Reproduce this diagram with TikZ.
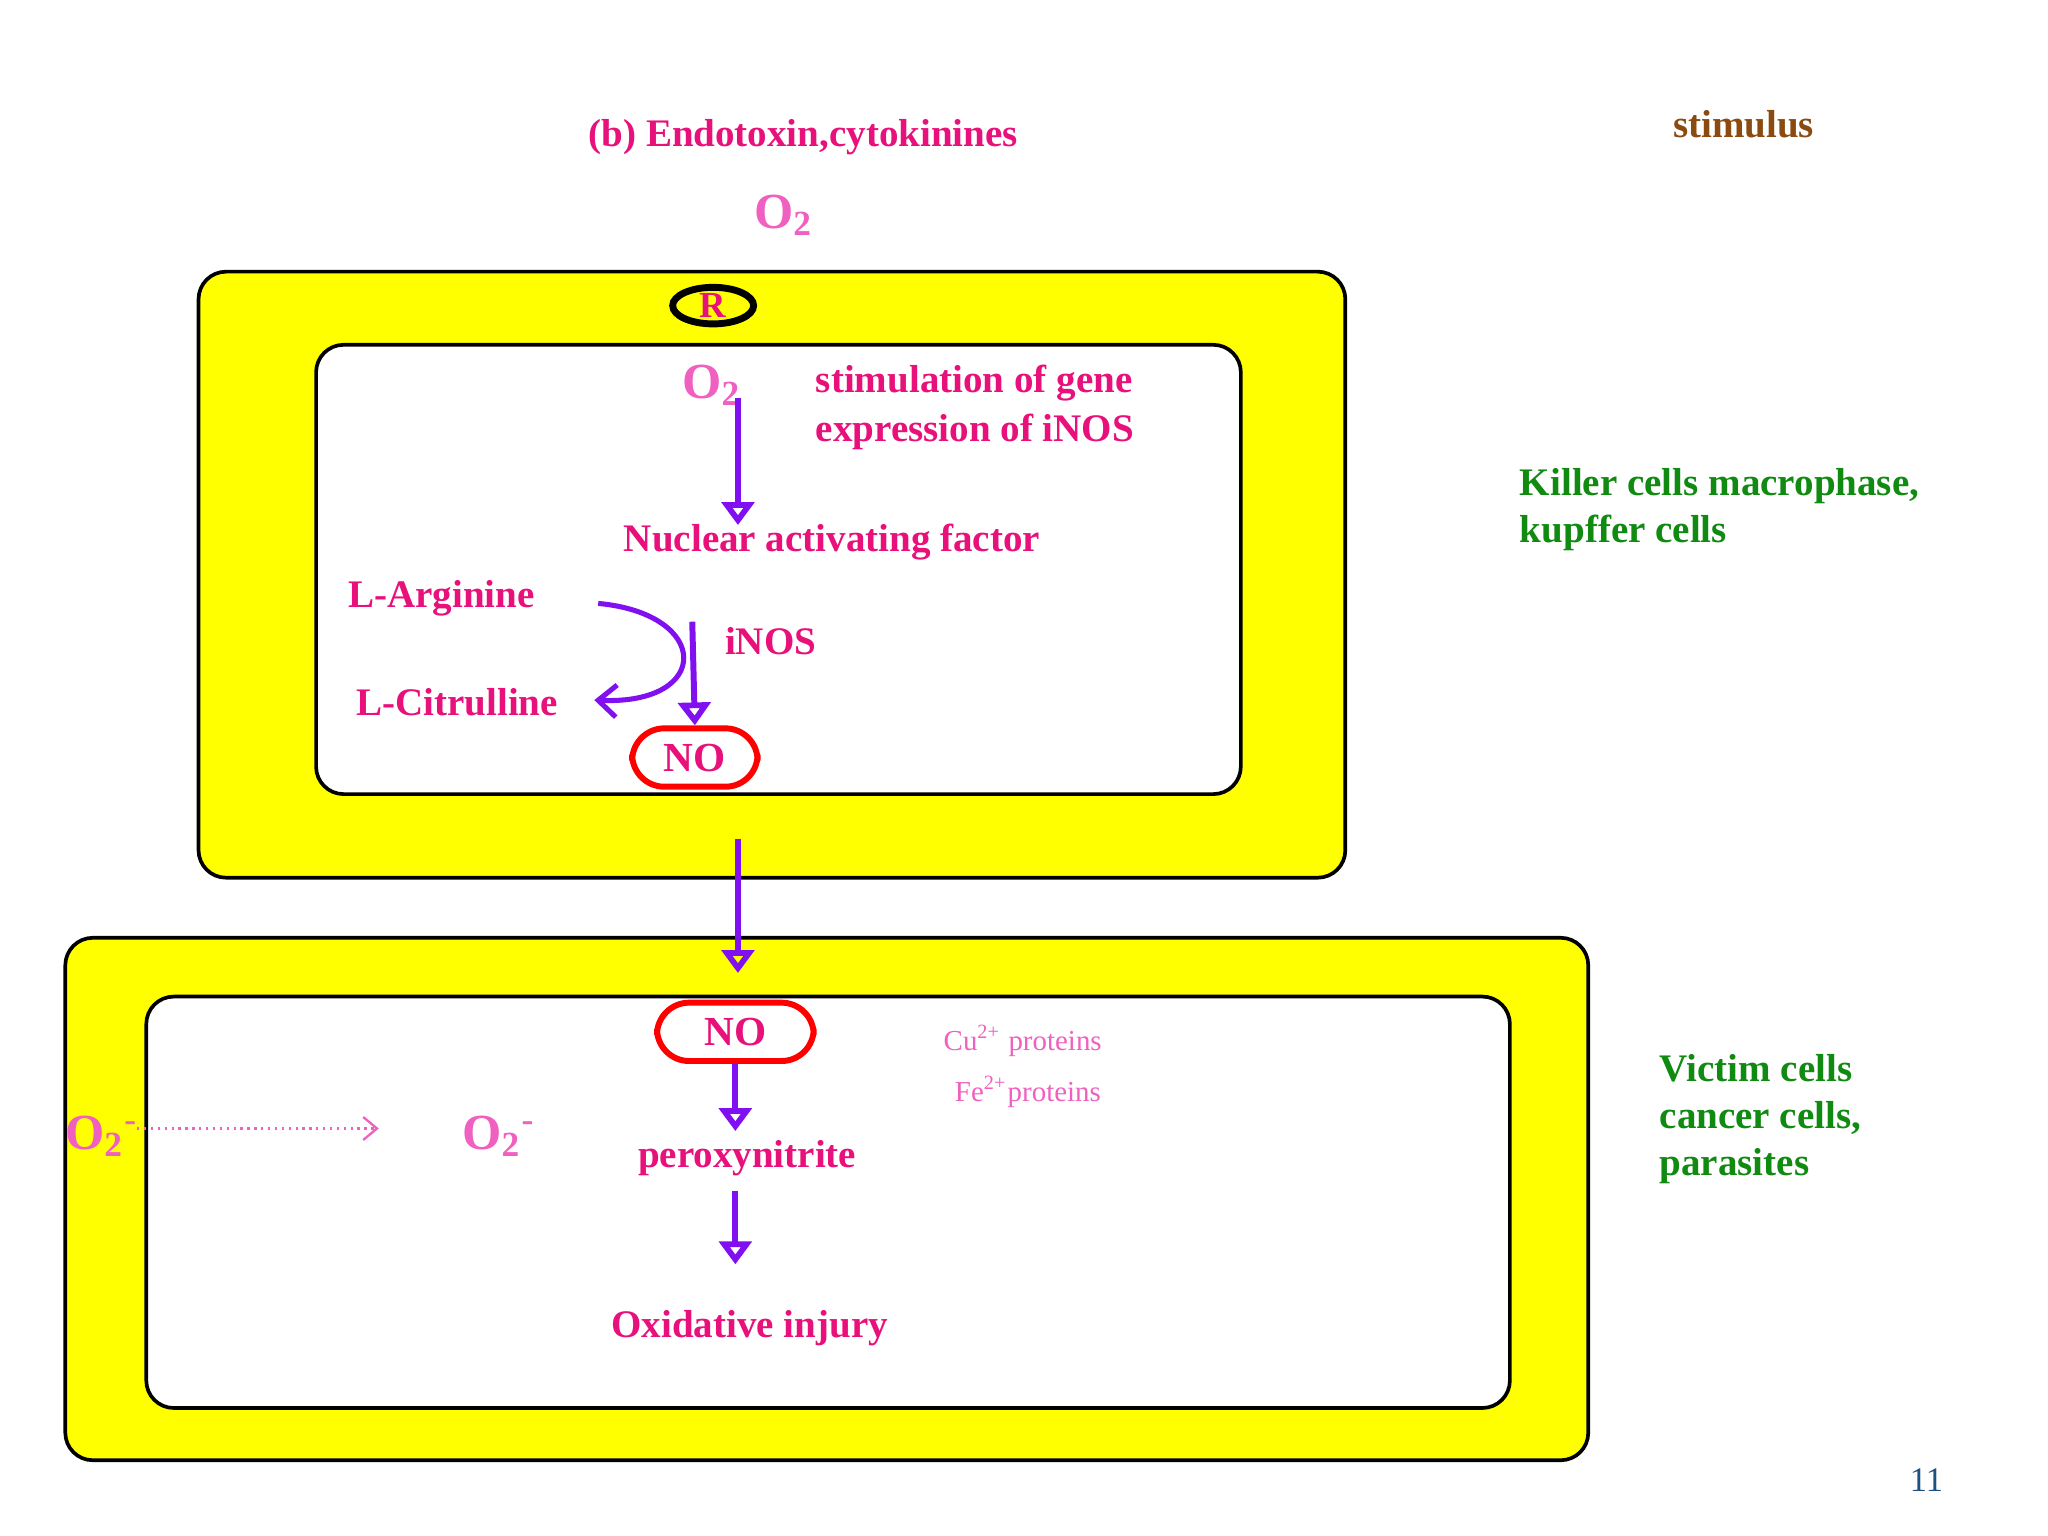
\documentclass[tikz,border=0pt]{standalone}
\usepackage{fontspec}
\setmainfont{Liberation Serif}
\usetikzlibrary{arrows.meta,shapes.geometric}
\definecolor{mag}{HTML}{E8107A}
\definecolor{pk}{HTML}{F060C0}
\definecolor{pur}{HTML}{8010F0}
\definecolor{grn}{HTML}{108A10}
\definecolor{brn}{HTML}{8A4A10}
\definecolor{ylw}{HTML}{FFFF00}
\tikzset{
 lbl/.style={font=\fontsize{8.5}{10.5}\selectfont\bfseries, text=mag, inner sep=0pt},
 glbl/.style={font=\fontsize{8.5}{10.2}\selectfont\bfseries, text=grn, inner sep=0pt, align=left, anchor=west},
 oxy/.style={font=\fontsize{11}{12}\selectfont\bfseries, text=pk, inner sep=0pt},
 small/.style={font=\fontsize{6.3}{7}\selectfont, text=pk, inner sep=0pt},
 cellout/.style={draw=black, fill=ylw, line width=0.8pt, rounded corners=6pt},
 cellin/.style={draw=black, fill=white, line width=0.8pt, rounded corners=6pt},
 flow/.style={draw=pur, line width=1.3pt, -{Triangle[open,length=5pt,width=7pt]}},
 nobox/.style={draw=red, line width=1.3pt, rounded corners=7pt, font=\fontsize{9}{10}\selectfont\bfseries, text=mag, minimum height=0.38cm},
}
\begin{document}
\begin{tikzpicture}[x=1cm,y=-1cm]
\useasboundingbox (0,0) rectangle (15.68,11.76);
% cells
\draw[cellout] (1.52,2.08) rectangle (10.30,6.72);
\draw[cellin] (2.42,2.64) rectangle (9.50,6.08);
\draw[cellout] (0.50,7.18) rectangle (12.16,11.18);
\draw[cellin] (1.12,7.63) rectangle (11.56,10.78);
% top texts
\node[lbl] (title) at (6.15,1.05) {(b) Endotoxin,cytokinines};
\node[font=\fontsize{8.5}{10}\selectfont\bfseries, text=brn] (stim) at (13.35,0.95) {stimulus};
\node[oxy] (o2a) at (6.00,1.65) {O\textsubscript{2}};
\node[draw=black, line width=1.5pt, ellipse, fill=ylw, minimum width=0.62cm, minimum height=0.28cm, inner sep=0pt, font=\fontsize{8}{9}\selectfont\bfseries, text=mag] (R) at (5.46,2.34) {R};
% cell 1 inner
\node[oxy] (o2b) at (5.45,2.95) {O\textsubscript{2}};
\node[lbl, anchor=west, align=left] (stg) at (6.24,3.12) {stimulation of gene\\expression of iNOS};
\node[lbl] (naf) at (6.37,4.15) {Nuclear activating factor};
\node[lbl] (arg) at (3.38,4.58) {L-Arginine};
\node[lbl] (cit) at (3.50,5.38) {L-Citrulline};
\node[lbl] (inos) at (5.90,4.91) {iNOS};
\node[nobox, minimum width=0.96cm] (no1) at (5.32,5.80) {NO};
\coordinate (a1) at (5.65,3.05);
\coordinate (a2) at (5.65,4.02);
\draw[flow] (a1) -- (a2);
\coordinate (c1) at (4.58,4.62);
\coordinate (c2) at (4.55,5.36);
\draw[draw=pur, line width=1.1pt, -{Straight Barb[length=4pt,width=7pt]}] (c1) .. controls (5.45,4.70) and (5.45,5.40) .. (c2);
\coordinate (b1) at (5.30,4.76);
\draw[flow] (b1) -- (no1.north);
\coordinate (d1) at (5.65,6.42);
\coordinate (d2) at (5.65,7.45);
\draw[flow] (d1) -- (d2);
% cell 2
\node[nobox, minimum width=1.20cm] (no2) at (5.63,7.90) {NO};
\node[small] (cu) at (7.83,7.97) {Cu\textsuperscript{2+} proteins};
\node[small] (fe) at (7.87,8.36) {Fe\textsuperscript{2+}proteins};
\node[lbl] (per) at (5.72,8.87) {peroxynitrite};
\node[lbl] (oxi) at (5.74,10.17) {Oxidative injury};
\coordinate (g2) at (5.63,8.66);
\draw[flow] (no2.south) -- (g2);
\coordinate (e1) at (5.63,9.12);
\coordinate (e2) at (5.63,9.68);
\draw[flow] (e1) -- (e2);
\node[oxy] (o2c) at (0.78,8.70) {O\textsubscript{2}\textsuperscript{-}};
\node[oxy] (o2d) at (3.82,8.70) {O\textsubscript{2}\textsuperscript{-}};
\coordinate (f1) at (1.05,8.64);
\coordinate (f2) at (2.90,8.64);
\draw[draw=pk, densely dotted, line width=0.5pt, -{Straight Barb[length=3pt,width=5pt]}] (f1) -- (f2);
% side labels
\node[glbl] (killer) at (11.63,3.90) {Killer cells macrophase,\\kupffer cells};
\node[glbl] (victim) at (12.70,8.57) {Victim cells\\cancer cells,\\parasites};
\node[font=\fontsize{7.5}{9}\selectfont, text={rgb,255:red,30;green,80;blue,130}] (pg) at (14.75,11.33) {11};
\end{tikzpicture}
\end{document}
